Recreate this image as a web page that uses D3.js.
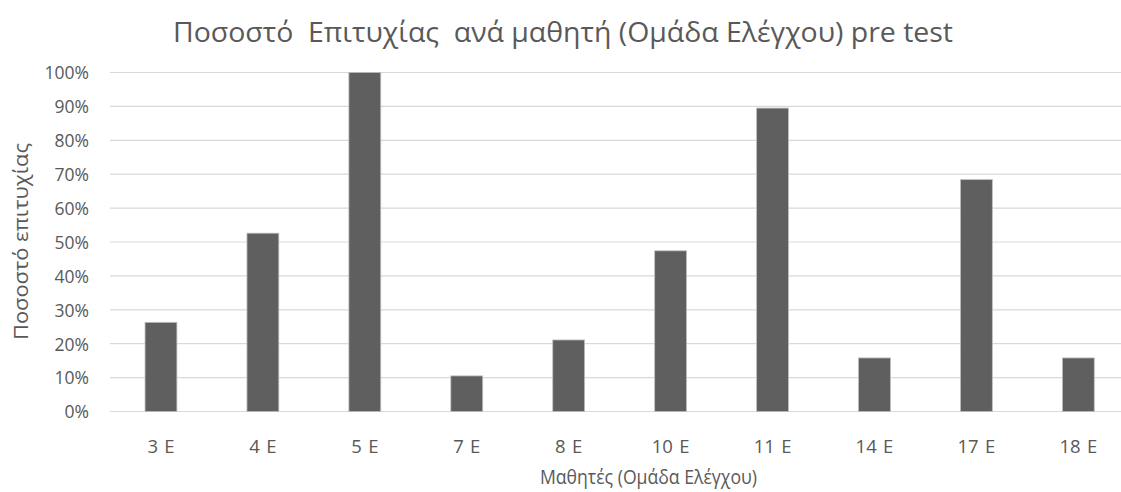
<!DOCTYPE html>
<html>
<head>
<meta charset="utf-8">
<script src="https://cdn.jsdelivr.net/npm/d3@7"></script>
<style>
  html, body { margin: 0; padding: 0; background: #ffffff; }
  svg { display: block; font-family: "Open Sans", "Noto Sans", sans-serif; }
</style>
</head>
<body>
<script>
// Students of the control group and their pre-test success rate
const students = ["3 E", "4 E", "5 E", "7 E", "8 E", "10 E", "11 E", "14 E", "17 E", "18 E"];
const successRate = [0.263, 0.526, 1.0, 0.105, 0.211, 0.474, 0.895, 0.158, 0.684, 0.158];
const yTicks = [0, 0.1, 0.2, 0.3, 0.4, 0.5, 0.6, 0.7, 0.8, 0.9, 1.0];

const titleText = "Ποσοστό  Επιτυχίας  ανά μαθητή (Ομάδα Ελέγχου) pre test";
const yTitleText = "Ποσοστό επιτυχίας";
const xTitleText = "Μαθητές (Ομάδα Ελέγχου)";

const W = 1121, H = 492;
const plot = { left: 110, right: 1129.3, top: 72.5, bottom: 411.5 };
const textColor = "#595959";

const svg = d3.select("body").append("svg")
  .attr("width", W).attr("height", H);

const x = d3.scaleBand()
  .domain(students)
  .range([plot.left, plot.right])
  .paddingInner(0.6875)
  .paddingOuter(0.34375);

const y = d3.scaleLinear()
  .domain([0, 1])
  .range([plot.bottom, plot.top]);

// Horizontal gridlines
svg.append("g")
  .selectAll("line")
  .data(yTicks)
  .join("line")
  .attr("x1", plot.left)
  .attr("x2", W)
  .attr("y1", d => y(d))
  .attr("y2", d => y(d))
  .attr("stroke", "#d9d9d9")
  .attr("stroke-width", 1.2);

// Y axis labels
const yAxis = d3.axisLeft(y)
  .tickValues(yTicks)
  .tickFormat(d3.format(".0%"))
  .tickSize(0)
  .tickPadding(0);

const yAxisG = svg.append("g")
  .attr("transform", `translate(${plot.left - 21},0)`)
  .call(yAxis);
yAxisG.select(".domain").remove();
yAxisG.selectAll("text")
  .attr("fill", textColor)
  .attr("font-size", 17.5)
  .attr("font-family", "Open Sans, sans-serif")
  .attr("dy", "0.36em");

// Bars
svg.append("g")
  .selectAll("rect")
  .data(students)
  .join("rect")
  .attr("x", d => x(d))
  .attr("width", x.bandwidth())
  .attr("y", (d, i) => y(successRate[i]))
  .attr("height", (d, i) => y(0) - y(successRate[i]))
  .attr("fill", "#5f5f5f")
  .attr("stroke", "#bdbdbd")
  .attr("stroke-width", 0.8);

// X axis labels
const xAxis = d3.axisBottom(x).tickSize(0).tickPadding(0);
const xAxisG = svg.append("g")
  .attr("transform", `translate(0,${plot.bottom})`)
  .call(xAxis);
xAxisG.select(".domain").remove();
xAxisG.selectAll("text")
  .attr("fill", textColor)
  .attr("font-size", 18.5)
  .attr("font-family", "Open Sans, sans-serif")
  .attr("word-spacing", "1.5px")
  .attr("dy", null)
  .attr("y", 41);

// Chart title
svg.append("text")
  .attr("x", 173)
  .attr("y", 42)
  .attr("fill", textColor)
  .attr("font-size", 28)
  .attr("textLength", 780)
  .attr("lengthAdjust", "spacingAndGlyphs")
  .attr("xml:space", "preserve")
  .style("white-space", "pre")
  .text(titleText);

// Y axis title
svg.append("text")
  .attr("transform", `translate(28,${(143 + 340) / 2}) rotate(-90)`)
  .attr("text-anchor", "middle")
  .attr("fill", textColor)
  .attr("font-size", 20)
  .attr("textLength", 197)
  .attr("lengthAdjust", "spacingAndGlyphs")
  .text(yTitleText);

// X axis title
svg.append("text")
  .attr("x", 648.5)
  .attr("y", 484)
  .attr("text-anchor", "middle")
  .attr("fill", textColor)
  .attr("font-size", 20)
  .attr("textLength", 217)
  .attr("lengthAdjust", "spacingAndGlyphs")
  .text(xTitleText);
</script>
</body>
</html>
